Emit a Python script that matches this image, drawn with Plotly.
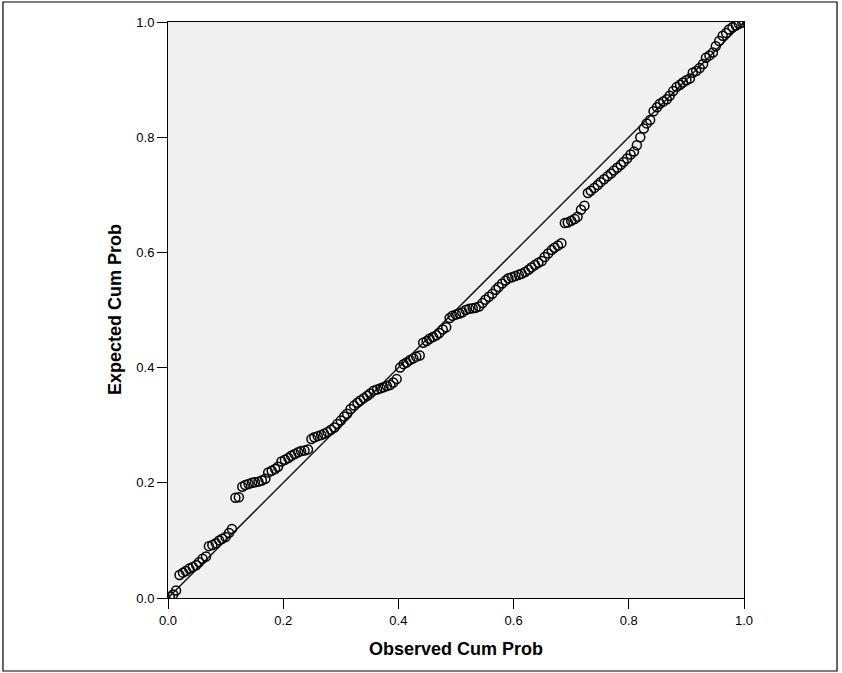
import plotly.graph_objects as go

# Observed cumulative probabilities (x) and expected cumulative probabilities (y)
observed_cum_prob = [
    0.003, 0.009, 0.014, 0.020, 0.026, 0.031, 0.037, 0.043, 0.049, 0.054,
    0.060, 0.066, 0.071, 0.077, 0.083, 0.089, 0.094, 0.100, 0.106, 0.111,
    0.117, 0.123, 0.129, 0.134, 0.140, 0.146, 0.151, 0.157, 0.163, 0.169,
    0.174, 0.180, 0.186, 0.191, 0.197, 0.203, 0.209, 0.214, 0.220, 0.226,
    0.231, 0.237, 0.243, 0.249, 0.254, 0.260, 0.266, 0.271, 0.277, 0.283,
    0.289, 0.294, 0.300, 0.306, 0.311, 0.317, 0.323, 0.329, 0.334, 0.340,
    0.346, 0.351, 0.357, 0.363, 0.369, 0.374, 0.380, 0.386, 0.391, 0.397,
    0.403, 0.409, 0.414, 0.420, 0.426, 0.431, 0.437, 0.443, 0.449, 0.454,
    0.460, 0.466, 0.471, 0.477, 0.483, 0.489, 0.494, 0.500, 0.506, 0.511,
    0.517, 0.523, 0.529, 0.534, 0.540, 0.546, 0.551, 0.557, 0.563, 0.569,
    0.574, 0.580, 0.586, 0.591, 0.597, 0.603, 0.609, 0.614, 0.620, 0.626,
    0.631, 0.637, 0.643, 0.649, 0.654, 0.660, 0.666, 0.671, 0.677, 0.683,
    0.689, 0.694, 0.700, 0.706, 0.711, 0.717, 0.723, 0.729, 0.734, 0.740,
    0.746, 0.751, 0.757, 0.763, 0.769, 0.774, 0.780, 0.786, 0.791, 0.797,
    0.803, 0.809, 0.814, 0.820, 0.826, 0.831, 0.837, 0.843, 0.849, 0.854,
    0.860, 0.866, 0.871, 0.877, 0.883, 0.889, 0.894, 0.900, 0.906, 0.911,
    0.917, 0.923, 0.929, 0.934, 0.940, 0.946, 0.951, 0.957, 0.963, 0.969,
    0.974, 0.980, 0.986, 0.991, 0.997,
]
expected_cum_prob = [
    0.002, 0.006, 0.013, 0.040, 0.044, 0.047, 0.051, 0.054, 0.057, 0.062,
    0.068, 0.072, 0.090, 0.092, 0.095, 0.100, 0.103, 0.106, 0.113, 0.120,
    0.174, 0.175, 0.193, 0.196, 0.198, 0.200, 0.201, 0.202, 0.204, 0.207,
    0.218, 0.221, 0.224, 0.228, 0.237, 0.240, 0.243, 0.247, 0.250, 0.253,
    0.255, 0.256, 0.258, 0.276, 0.279, 0.281, 0.283, 0.285, 0.288, 0.292,
    0.296, 0.302, 0.308, 0.315, 0.320, 0.328, 0.334, 0.339, 0.343, 0.347,
    0.351, 0.355, 0.360, 0.362, 0.364, 0.366, 0.368, 0.370, 0.374, 0.380,
    0.400, 0.406, 0.409, 0.413, 0.416, 0.419, 0.421, 0.443, 0.446, 0.450,
    0.453, 0.456, 0.460, 0.466, 0.470, 0.486, 0.490, 0.492, 0.494, 0.496,
    0.500, 0.502, 0.503, 0.504, 0.506, 0.512, 0.518, 0.523, 0.528, 0.535,
    0.540, 0.546, 0.551, 0.555, 0.557, 0.559, 0.561, 0.563, 0.566, 0.570,
    0.574, 0.578, 0.582, 0.585, 0.592, 0.598, 0.604, 0.608, 0.612, 0.616,
    0.651, 0.652, 0.655, 0.658, 0.662, 0.674, 0.681, 0.703, 0.707, 0.712,
    0.717, 0.722, 0.727, 0.732, 0.737, 0.742, 0.747, 0.752, 0.757, 0.763,
    0.770, 0.775, 0.786, 0.800, 0.815, 0.824, 0.830, 0.845, 0.852, 0.858,
    0.862, 0.866, 0.872, 0.880, 0.887, 0.891, 0.895, 0.899, 0.902, 0.912,
    0.915, 0.920, 0.927, 0.938, 0.942, 0.947, 0.958, 0.967, 0.976, 0.981,
    0.987, 0.991, 0.994, 0.997, 0.999,
]
reference_line = [0.0, 1.0]
tick_values = [0.0, 0.2, 0.4, 0.6, 0.8, 1.0]
tick_labels = ["0.0", "0.2", "0.4", "0.6", "0.8", "1.0"]

fig = go.Figure()
fig.add_trace(go.Scatter(
    x=reference_line, y=reference_line, mode="lines",
    line=dict(color="black", width=1.3), hoverinfo="skip", showlegend=False,
))
fig.add_trace(go.Scatter(
    x=observed_cum_prob, y=expected_cum_prob, mode="markers",
    marker=dict(symbol="circle-open", size=9, color="black", line=dict(width=1.5, color="black")),
    showlegend=False,
))

axis_common = dict(
    range=[0, 1], tickvals=tick_values, ticktext=tick_labels,
    showgrid=False, zeroline=False, showline=True, linecolor="black", linewidth=1,
    mirror=True, ticks="outside", ticklen=10, tickwidth=1.2, tickcolor="black",
    tickfont=dict(family="Arial, Liberation Sans", size=13, color="black"),
)

fig.update_layout(
    width=842, height=673,
    margin=dict(l=168, r=98, t=22, b=75, autoexpand=False),
    paper_bgcolor="white", plot_bgcolor="#F0F0F0",
    xaxis=axis_common, yaxis=axis_common,
    font=dict(family="Arial, Liberation Sans", color="black"),
    annotations=[
        dict(text="<b>Observed Cum Prob</b>", xref="paper", yref="paper", x=0.5, y=-0.0885,
             xanchor="center", yanchor="middle", showarrow=False,
             font=dict(family="Arial, Liberation Sans", size=18, color="black")),
        dict(text="<b>Expected Cum Prob</b>", xref="paper", yref="paper", x=-0.092, y=0.5,
             xanchor="center", yanchor="middle", textangle=-90, showarrow=False,
             font=dict(family="Arial, Liberation Sans", size=18, color="black")),
    ],
    shapes=[
        dict(type="rect", xref="paper", yref="paper", x0=-0.2865, x1=1.1615, y0=-0.1267, y1=1.0347,
             line=dict(color="black", width=1.2), fillcolor="rgba(0,0,0,0)", layer="below"),
    ],
)

fig.write_html(
    "out.html",
    config={"displayModeBar": False},
    post_script="document.body.style.margin='0';document.body.style.overflow='hidden';",
)
